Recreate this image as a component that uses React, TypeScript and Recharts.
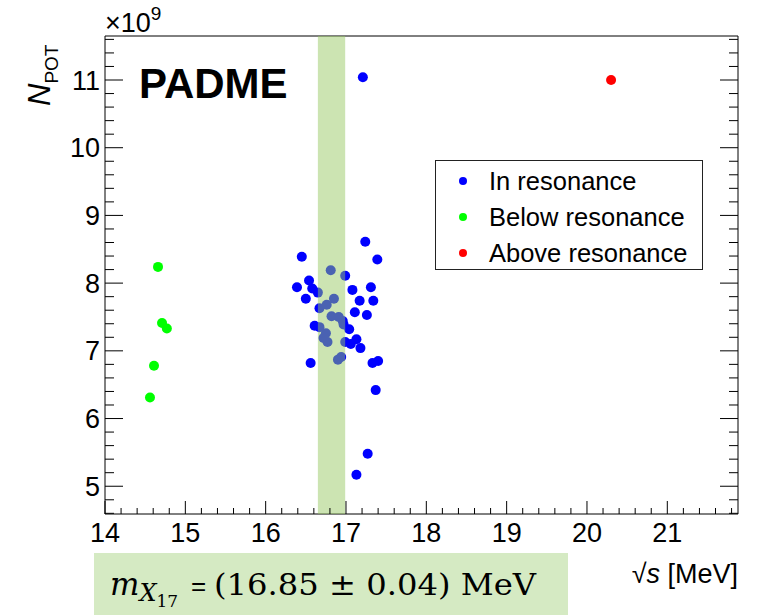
import { Legend, ReferenceArea, Scatter, ScatterChart, XAxis, YAxis } from "recharts";

// sqrt(s) in MeV and N_POT in units of 1e9
const inResX = [
  17.24, 16.45, 17.39, 16.81, 16.99, 16.54, 16.39, 16.58, 16.65, 17.08, 17.31, 16.5, 16.85, 17.17,
  17.34, 16.76, 16.67, 17.11, 17.26, 16.82, 16.91, 16.96, 16.97, 16.61, 16.67, 16.75, 16.72, 17.04,
  16.77, 17.13, 16.99, 17.06, 17.18, 16.94, 16.9, 16.56, 17.33, 17.4, 17.37, 17.27, 17.13, 17.21,
];
const inResY = [
  8.61, 8.39, 8.35, 8.19, 8.11, 8.04, 7.94, 7.92, 7.86, 7.9, 7.94, 7.77, 7.77, 7.74, 7.74, 7.68, 7.63,
  7.57, 7.53, 7.51, 7.5, 7.44, 7.39, 7.37, 7.35, 7.26, 7.19, 7.32, 7.13, 7.17, 7.13, 7.1, 7.04, 6.91,
  6.87, 6.82, 6.82, 6.85, 6.42, 5.48, 5.17, 11.04,
];
const belowResX = [14.66, 14.71, 14.77, 14.61, 14.56];
const belowResY = [8.24, 7.41, 7.33, 6.78, 6.31];
const aboveResX = [20.3];
const aboveResY = [11.0];

const seriesNames = ["In resonance", "Below resonance", "Above resonance"];
const xLabels = [14, 15, 16, 17, 18, 19, 20, 21];
const yLabels = [5, 6, 7, 8, 9, 10, 11];
const xDomain = [14, 21.88];
const yDomain = [4.59, 11.65];
const bandLow = 16.65;
const bandHigh = 16.99;

const toPoints = (xs: number[], ys: number[]) => xs.map((x, i) => ({ x, y: ys[i] }));

// minor ticks every 0.2
const minorTicks = (lo: number, hi: number) => {
  const out: number[] = [];
  for (let v = Math.ceil(lo * 5); v <= Math.floor(hi * 5); v++) out.push(+(v / 5).toFixed(1));
  return out;
};
const xTicks = minorTicks(xDomain[0], xDomain[1]);
const yTicks = minorTicks(yDomain[0], yDomain[1]);
const isMajor = (v: number) => Math.abs(v - Math.round(v)) < 1e-6;

const FONT = "'Liberation Sans', Arial, sans-serif";
const W = 762;
const H = 615;

function BottomTick({ x, y, payload }: any) {
  const major = isMajor(payload.value);
  return (
    <g>
      <line x1={x} x2={x} y1={y} y2={y - (major ? 13 : 6)} stroke="#000" />
      {major && xLabels.includes(Math.round(payload.value)) && (
        <text x={x} y={y + 28} textAnchor="middle" fontSize={27} fontFamily={FONT} fill="#000">
          {Math.round(payload.value)}
        </text>
      )}
    </g>
  );
}

function TopTick({ x, y, payload }: any) {
  const major = isMajor(payload.value);
  return <line x1={x} x2={x} y1={y} y2={y + (major ? 13 : 6)} stroke="#000" />;
}

function LeftTick({ x, y, payload }: any) {
  const major = isMajor(payload.value);
  return (
    <g>
      <line x1={x} x2={x + (major ? 18 : 9)} y1={y} y2={y} stroke="#000" />
      {major && yLabels.includes(Math.round(payload.value)) && (
        <text x={x - 5} y={y + 9.5} textAnchor="end" fontSize={27} fontFamily={FONT} fill="#000">
          {Math.round(payload.value)}
        </text>
      )}
    </g>
  );
}

function RightTick({ x, y, payload }: any) {
  const major = isMajor(payload.value);
  return <line x1={x} x2={x - (major ? 18 : 9)} y1={y} y2={y} stroke="#000" />;
}

const dot = (color: string) => (props: any) => <circle cx={props.cx} cy={props.cy} r={5} fill={color} />;

function LegendBox({ payload }: any) {
  const items = [...(payload || [])].sort(
    (a: any, b: any) => seriesNames.indexOf(a.value) - seriesNames.indexOf(b.value),
  );
  return (
    <div
      style={{
        boxSizing: "border-box",
        width: 268,
        height: 110,
        border: "1px solid #222",
        background: "#fff",
        fontFamily: FONT,
        fontSize: 25.5,
        paddingTop: 2,
      }}
    >
      {items.map((p: any) => (
        <div key={p.value} style={{ display: "flex", alignItems: "center", height: 36 }}>
          <svg width={53} height={36}>
            <circle cx={27} cy={18} r={4} fill={p.color} />
          </svg>
          <span style={{ color: "#000" }}>{p.value}</span>
        </div>
      ))}
    </div>
  );
}

export default function App() {
  return (
    <div style={{ position: "absolute", left: 0, top: 0, width: W, height: H, background: "#fff" }}>
      <ScatterChart width={W} height={H} margin={{ top: 35, right: 23, bottom: 100, left: 104 }}>
        <XAxis
          xAxisId="b"
          type="number"
          dataKey="x"
          domain={xDomain}
          ticks={xTicks}
          interval={0}
          height={1}
          tickSize={0}
          tickMargin={0}
          tickLine={false}
          tick={<BottomTick />}
          axisLine={{ stroke: "#000" }}
          allowDataOverflow
        />
        <XAxis
          xAxisId="t"
          orientation="top"
          type="number"
          domain={xDomain}
          ticks={xTicks}
          interval={0}
          height={1}
          tickSize={0}
          tickMargin={0}
          tickLine={false}
          tick={<TopTick />}
          axisLine={{ stroke: "#000" }}
          allowDataOverflow
        />
        <YAxis
          yAxisId="l"
          type="number"
          dataKey="y"
          domain={yDomain}
          ticks={yTicks}
          interval={0}
          width={1}
          tickSize={0}
          tickMargin={0}
          tickLine={false}
          tick={<LeftTick />}
          axisLine={{ stroke: "#000" }}
          allowDataOverflow
        />
        <YAxis
          yAxisId="r"
          orientation="right"
          type="number"
          domain={yDomain}
          ticks={yTicks}
          interval={0}
          width={1}
          tickSize={0}
          tickMargin={0}
          tickLine={false}
          tick={<RightTick />}
          axisLine={{ stroke: "#000" }}
          allowDataOverflow
        />
        <Scatter
          name={seriesNames[0]}
          xAxisId="b"
          yAxisId="l"
          data={toPoints(inResX, inResY)}
          fill="#0000ff"
          shape={dot("#0000ff")}
          isAnimationActive={false}
        />
        <Scatter
          name={seriesNames[1]}
          xAxisId="b"
          yAxisId="l"
          data={toPoints(belowResX, belowResY)}
          fill="#00ff00"
          shape={dot("#00ff00")}
          isAnimationActive={false}
        />
        <Scatter
          name={seriesNames[2]}
          xAxisId="b"
          yAxisId="l"
          data={toPoints(aboveResX, aboveResY)}
          fill="#ff0000"
          shape={dot("#ff0000")}
          isAnimationActive={false}
        />
        <ReferenceArea
          xAxisId="b"
          yAxisId="l"
          x1={bandLow}
          x2={bandHigh}
          y1={yDomain[0]}
          y2={yDomain[1]}
          fill="rgb(151,200,98)"
          fillOpacity={0.49}
          stroke="none"
          zIndex={700}
        />
        <Legend
          layout="vertical"
          align="center"
          verticalAlign="middle"
          content={<LegendBox />}
          wrapperStyle={{ left: 435, top: 160, width: 268, height: 110 }}
        />
      </ScatterChart>

      <svg width={W} height={H} style={{ position: "absolute", left: 0, top: 0, pointerEvents: "none" }}>
        <text x={139} y={98} fontSize={42} fontWeight="bold" fontFamily={FONT} fill="#000">
          PADME
        </text>
        <text x={105} y={32} fontSize={27} fontFamily={FONT} fill="#000">
          ×10
          <tspan fontSize={19} dy={-12}>
            9
          </tspan>
        </text>
        <text transform="translate(50,106) rotate(-90)" fontSize={31} fontFamily={FONT} fill="#000">
          <tspan fontStyle="italic">N</tspan>
          <tspan fontSize={19} dy={8}>
            POT
          </tspan>
        </text>
        <text x={738} y={583} textAnchor="end" fontSize={27} fontFamily={FONT} fill="#000">
          √<tspan fontStyle="italic">s</tspan> [MeV]
        </text>
        <rect x={94} y={553} width={474} height={62} fill="#d5eac3" />
        <text x={110} y={595} fontSize={31} fontFamily="'DejaVu Serif', serif" fill="#000">
          <tspan fontStyle="italic">m</tspan>
          <tspan fontStyle="italic" fontSize={24} dy={6}>
            X
          </tspan>
          <tspan fontSize={17} dy={6}>
            17
          </tspan>
        </text>
        <text x={191} y={595} fontSize={26} fontFamily={FONT} fill="#000">
          =
        </text>
        <text
          x={214}
          y={595}
          fontSize={30}
          fontFamily="'DejaVu Serif', serif"
          fill="#000"
          textLength={322}
          lengthAdjust="spacingAndGlyphs"
        >
          (16.85 ± 0.04) MeV
        </text>
      </svg>
    </div>
  );
}
